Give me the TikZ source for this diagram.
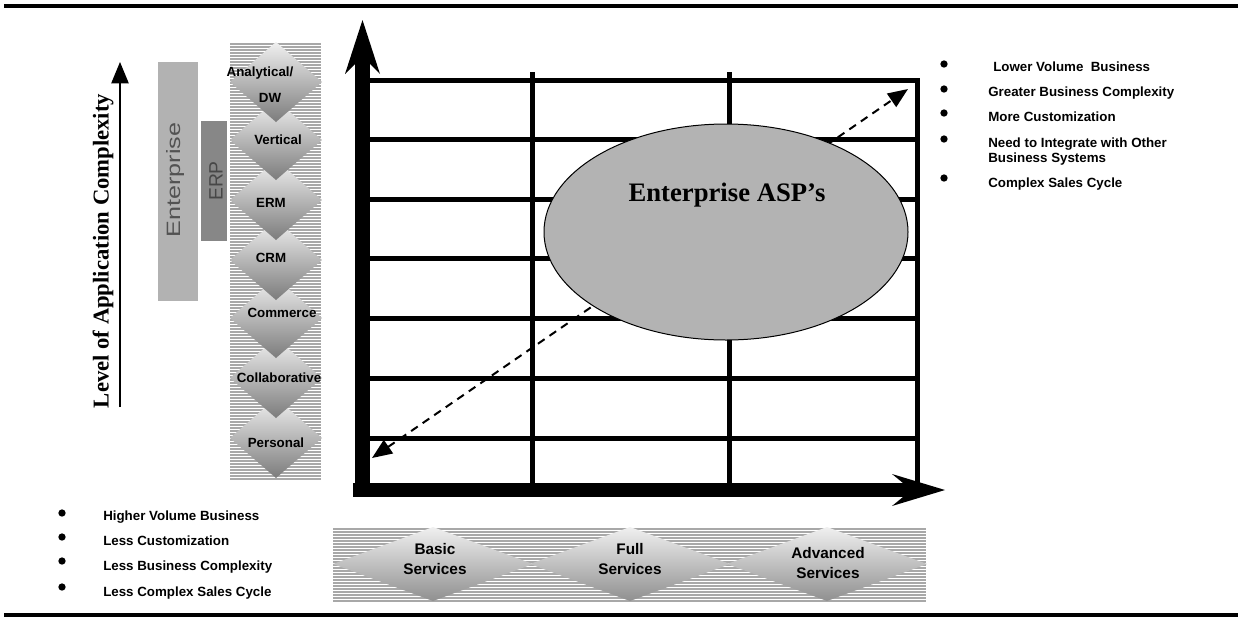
\documentclass[tikz,border=0pt]{standalone}
\usepackage{fontspec}
\setmainfont{Liberation Serif}
\newfontfamily\arialf{Liberation Sans}
\usetikzlibrary{arrows.meta,shapes.geometric}

\definecolor{entgray}{HTML}{B2B2B2}
\definecolor{erpgray}{HTML}{878787}
\definecolor{aspgray}{HTML}{B3B3B3}
\definecolor{hatchgray}{HTML}{A8A8A8}
\definecolor{dtop}{HTML}{F0F0F0}
\definecolor{dmid}{HTML}{C6C6C6}
\definecolor{dbot}{HTML}{7C7C7C}

\tikzset{dtip/.tip={Triangle[length=15pt,width=12pt]}}

\begin{document}
\begin{tikzpicture}[x=0.75pt,y=-0.75pt,
  gridline/.style={line width=3.75pt},
  hatch/.style={hatchgray,line width=1.1pt},
  lbl/.style={font=\arialf\bfseries\fontsize{10}{12}\selectfont,inner sep=0pt},
  svc/.style={font=\arialf\bfseries\fontsize{11.5}{15}\selectfont,inner sep=0pt,align=center},
  blt/.style={circle,fill=black,inner sep=0pt,minimum size=5.5pt},
  note/.style={font=\arialf\bfseries\fontsize{10}{11.25}\selectfont,anchor=west,
    inner sep=0pt,align=left,text height=7.5pt,text depth=2pt}]

\useasboundingbox (0,0) rectangle (1238,618);

% page rules
\draw[line width=3pt] (4,6) -- (1238,6);
\draw[line width=3pt] (4,615) -- (1238,615);

% level arrow and caption
\coordinate (lvlbot) at (120,407);
\coordinate (lvltop) at (120,62);
\draw[line width=1pt,-{Triangle[length=16pt,width=13pt]}] (lvlbot) -- (lvltop);
\node[rotate=90,font=\bfseries\fontsize{17}{17}\selectfont,inner sep=0pt] (lvl) at (103,251)
  {Level of Application Complexity};

% Enterprise and ERP bars
\fill[entgray] (158,62) rectangle (198,301);
\node[rotate=90,text=black!68,font=\arialf\fontsize{14.5}{15}\selectfont,inner sep=0pt] (ent) at (175,180)
  {\scalebox{1.3}[1]{Enterprise}};
\fill[erpgray] (201,121) rectangle (227,241);
\node[rotate=90,text=black!72,font=\arialf\fontsize{14.5}{15}\selectfont,inner sep=0pt] (erp) at (216,181)
  {ERP};

% striped column of application types
\foreach \y in {44,47,...,479} \draw[hatch] (230,\y) -- (321,\y);
\foreach \cy in {438,378,318,260,200,140,82}
  \shade[top color=dtop,middle color=dmid,bottom color=dbot]
    (276,{\cy-40}) -- (322,\cy) -- (276,{\cy+40}) -- (230,\cy) -- cycle;
\node[lbl] (anl) at (260,73) {Analytical/};
\node[lbl] (dw) at (270,98) {DW};
\node[lbl] (vert) at (278,140) {Vertical};
\node[lbl] (erm) at (271,203) {ERM};
\node[lbl] (crm) at (271,258) {CRM};
\node[lbl] (com) at (282,313) {Commerce};
\node[lbl] (col) at (279,378) {Collaborative};
\node[lbl] (per) at (276,443) {Personal};

% grid
\foreach \y in {80,139,199,258,318,378,438} \draw[gridline] (370,\y) -- (919.5,\y);
\draw[gridline] (532,72) -- (532,484);
\draw[gridline] (729,72) -- (729,484);
\draw[gridline] (917,78) -- (917,484);

% axes
\fill (355,497) rectangle (370,62);
\fill (362.5,20) -- (380,74) -- (370,64) -- (355,64) -- (345,74) -- cycle;
\fill (353,483) rectangle (905,497);
\fill (945,490) -- (892,474) -- (903,483) -- (903,497) -- (892,506) -- cycle;

% diagonal trend
\coordinate (dlo) at (372,458);
\coordinate (dhi) at (908,89);
\draw[line width=1.5pt,dash pattern=on 6pt off 4.5pt,dtip-dtip] (dlo) -- (dhi);

% enterprise ASP region
\node[ellipse,draw,line width=0.75pt,fill=aspgray,inner sep=0pt,
  minimum width=273pt,minimum height=162pt] (asp) at (726,232) {};
\node[font=\bfseries\fontsize{20}{20}\selectfont,inner sep=0pt] (asptxt) at (727,195) {Enterprise ASP’s};

% service levels band
\foreach \y in {529,532,...,601} \draw[hatch] (333,\y) -- (926,\y);
\foreach \cx in {433,630,827}
  \shade[top color=dtop,middle color=dmid,bottom color=dbot!85!white]
    ({\cx-100},564) -- (\cx,527) -- ({\cx+100},564) -- (\cx,601) -- cycle;
\node[svc] (basic) at (435,559) {Basic\\Services};
\node[svc] (full) at (630,559) {Full\\Services};
\node[svc] (adv) at (828,563) {Advanced\\Services};

% upper-right notes
\node[blt] (rb1) at (944,64) {};
\node[blt] (rb2) at (944,89) {};
\node[blt] (rb3) at (944,113) {};
\node[blt] (rb4) at (944,139) {};
\node[blt] (rb5) at (944,178) {};
\node[note] (rt1) at (993,68) {Lower Volume\ \ Business};
\node[note] (rt2) at (988,93) {Greater Business Complexity};
\node[note] (rt3) at (988,118) {More Customization};
\node[note,text height=,text depth=] (rt4) at (988,151.5) {Need to Integrate with Other\\Business Systems};
\node[note] (rt5) at (988,184) {Complex Sales Cycle};

% lower-left notes
\node[blt] (lb1) at (62,513) {};
\node[blt] (lb2) at (62,537) {};
\node[blt] (lb3) at (62,561) {};
\node[blt] (lb4) at (62,587) {};
\node[note] (lt1) at (103,517) {Higher Volume Business};
\node[note] (lt2) at (103,542) {Less Customization};
\node[note] (lt3) at (103,567) {Less Business Complexity};
\node[note] (lt4) at (103,593) {Less Complex Sales Cycle};
\end{tikzpicture}
\end{document}
